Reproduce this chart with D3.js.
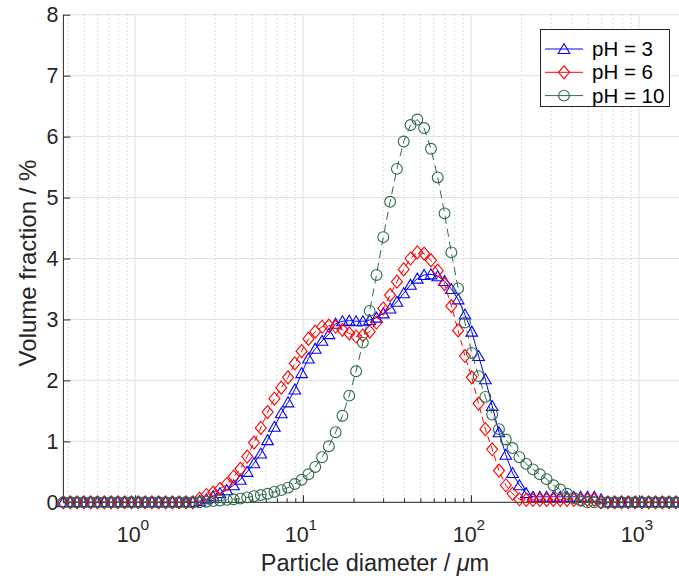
<!DOCTYPE html>
<html>
<head>
<meta charset="utf-8">
<script src="https://cdn.jsdelivr.net/npm/d3@7"></script>
<style>
  body { margin: 0; background: #fff; }
  text { font-family: "Liberation Sans", Arial, Helvetica, sans-serif; fill: #262626; }
</style>
</head>
<body>
<div id="chart"></div>
<script>
// Particle size channels (um)
const diameter = [0.375,0.412,0.452,0.496,0.545,0.598,0.657,0.721,0.791,0.869,
  0.953,1.047,1.149,1.261,1.385,1.520,1.669,1.832,2.011,2.208,
  2.423,2.660,2.920,3.206,3.519,3.863,4.241,4.656,5.111,5.611,
  6.159,6.761,7.422,8.148,8.944,9.819,10.78,11.83,12.99,14.26,
  15.65,17.18,18.86,20.71,22.73,24.95,27.39,30.07,33.01,36.24,
  39.78,43.67,47.94,52.62,57.77,63.41,69.61,76.42,83.89,92.09,
  101.1,111.0,121.8,133.7,146.8,161.2,176.8,194.2,213.2,234.0,
  256.9,282.1,309.6,339.9,373.1,409.6,449.7,493.6,541.9,594.9,
  653.0,716.9,786.9,863.9,948.3,1041,1143,1255,1377,1512,
  1660,1822,2000];

// volume fraction (%) for each pH
const pH3 = [0,0,0,0,0,0,0,0,0,0,
  0,0,0,0,0,0,0,0,0,0,
  0.02,0.05,0.10,0.15,0.20,0.28,0.37,0.50,0.64,0.80,
  1.02,1.24,1.46,1.64,1.85,2.12,2.36,2.52,2.65,2.76,
  2.93,2.97,2.98,2.97,2.97,2.99,3.03,3.10,3.18,3.29,
  3.43,3.57,3.67,3.73,3.74,3.71,3.63,3.50,3.33,3.08,
  2.80,2.40,2.02,1.58,1.15,0.78,0.48,0.28,0.15,0.09,
  0.09,0.09,0.09,0.09,0.09,0.09,0.09,0.09,0.09,0.05,
  0,0,0,0,0,0,0,0,0,0,
  0,0,0];
const pH6 = [0,0,0,0,0,0,0,0,0,0,
  0,0,0,0,0,0,0,0,0,0,
  0.06,0.12,0.16,0.22,0.30,0.42,0.55,0.75,0.98,1.22,
  1.48,1.70,1.88,2.05,2.28,2.48,2.68,2.80,2.88,2.90,
  2.88,2.83,2.77,2.72,2.74,2.80,2.95,3.18,3.40,3.62,
  3.82,4.00,4.10,4.08,3.97,3.80,3.58,3.22,2.82,2.40,
  2.05,1.62,1.20,0.87,0.52,0.28,0.14,0.05,0.04,0.04,
  0.04,0.04,0.04,0.04,0.04,0.04,0.04,0.04,0.04,0,
  0,0,0,0,0,0,0,0,0,0,
  0,0,0];
const pH10 = [0,0,0,0,0,0,0,0,0,0,
  0,0,0,0,0,0,0,0,0,0,
  0,0.01,0.02,0.03,0.04,0.05,0.06,0.08,0.10,0.12,
  0.14,0.17,0.20,0.24,0.30,0.37,0.46,0.58,0.74,0.92,
  1.15,1.42,1.75,2.15,2.62,3.14,3.73,4.35,4.93,5.47,
  5.92,6.19,6.28,6.14,5.80,5.33,4.74,4.10,3.51,2.95,
  2.45,2.07,1.73,1.44,1.20,1.03,0.89,0.74,0.63,0.54,
  0.46,0.38,0.28,0.21,0.14,0.07,0.03,0,0,0,
  0,0,0,0,0,0,0,0,0,0,
  0,0,0];

const seriesNames = ['pH = 3', 'pH = 6', 'pH = 10'];
const yTicks = [0, 1, 2, 3, 4, 5, 6, 7, 8];
const xMajor = [1, 10, 100, 1000];
const xMajorExp = ['0', '1', '2', '3'];

const width = 679, height = 576;
const svg = d3.select('#chart').append('svg')
  .attr('width', width)
  .attr('height', height);

const plotLeft = 63.4, plotBottom = 502.3, plotTop = 14.7;
const decade = 168;
const x = d3.scaleLog()
  .domain([0.375, 2000])
  .range([plotLeft, plotLeft + decade * Math.log10(2000 / 0.375)]);
const y = d3.scaleLinear().domain([0, 8]).range([plotBottom, plotTop]);

// minor x values (2..9 in each decade, inside the domain)
const xMinor = [];
[0.1, 1, 10, 100, 1000].forEach(b => {
  for (let m = 2; m <= 9; m++) {
    const v = b * m;
    if (v > 0.375 && v < 2000) xMinor.push(v);
  }
});

// grid
const grid = svg.append('g');
grid.selectAll('line.minor')
  .data(xMinor)
  .enter().append('line')
  .attr('x1', d => x(d)).attr('x2', d => x(d))
  .attr('y1', plotTop).attr('y2', plotBottom)
  .attr('stroke', '#bdbdbd')
  .attr('stroke-width', 1)
  .attr('stroke-dasharray', '1,3');
grid.selectAll('line.vmaj')
  .data(xMajor)
  .enter().append('line')
  .attr('x1', d => x(d)).attr('x2', d => x(d))
  .attr('y1', plotTop).attr('y2', plotBottom)
  .attr('stroke', '#e0e0e0');
grid.selectAll('line.hmaj')
  .data(yTicks)
  .enter().append('line')
  .attr('x1', plotLeft).attr('x2', width)
  .attr('y1', d => y(d)).attr('y2', d => y(d))
  .attr('stroke', '#e0e0e0');

// axes
const yAxis = svg.append('g')
  .attr('transform', `translate(${plotLeft},0)`)
  .call(d3.axisLeft(y).tickValues(yTicks).tickSize(-7).tickPadding(5).tickFormat(d3.format('d')));
yAxis.select('.domain').remove();
yAxis.selectAll('.tick line').attr('stroke', '#262626');
yAxis.selectAll('.tick text').attr('font-size', 21.5).style('fill', '#262626');

const xAxis = svg.append('g')
  .attr('transform', `translate(0,${plotBottom})`)
  .call(d3.axisBottom(x).tickValues(xMajor).tickSize(-7).tickFormat(''));
xAxis.select('.domain').remove();
xAxis.selectAll('.tick line').attr('stroke', '#262626');

const xAxisMinor = svg.append('g')
  .attr('transform', `translate(0,${plotBottom})`)
  .call(d3.axisBottom(x).tickValues(xMinor).tickSize(-4).tickFormat(''));
xAxisMinor.select('.domain').remove();
xAxisMinor.selectAll('.tick line').attr('stroke', '#262626');

svg.append('line')
  .attr('x1', plotLeft).attr('x2', plotLeft)
  .attr('y1', plotTop).attr('y2', plotBottom)
  .attr('stroke', '#262626');
svg.append('line')
  .attr('x1', plotLeft).attr('x2', width)
  .attr('y1', plotBottom).attr('y2', plotBottom)
  .attr('stroke', '#262626');

// x tick labels 10^n
const xl = svg.append('g');
xMajor.forEach((v, i) => {
  const t = xl.append('text')
    .attr('x', x(v) - 2)
    .attr('y', 542)
    .attr('text-anchor', 'middle')
    .attr('font-size', 21.5);
  t.append('tspan').text('10');
  t.append('tspan').attr('dy', -12).attr('font-size', 15.5).text(xMajorExp[i]);
});

// axis labels
const xt = svg.append('text')
  .attr('x', 375)
  .attr('y', 570.5)
  .attr('text-anchor', 'middle')
  .attr('font-size', 23.5);
xt.append('tspan').text('Particle diameter / ');
xt.append('tspan').attr('font-style', 'italic').text('μ');
xt.append('tspan').text('m');

svg.append('text')
  .attr('transform', 'translate(36,263) rotate(-90)')
  .attr('text-anchor', 'middle')
  .attr('font-size', 24)
  .text('Volume fraction / %');

// series
const triangle = 'M0,-5.5L5.8,4.5L-5.8,4.5Z';
const diamond = 'M0,-6.5L5.5,0L0,6.5L-5.5,0Z';
const circle = d3.symbol().type(d3.symbolCircle).size(Math.PI * 5.4 * 5.4)();

const series = [
  { name: seriesNames[0], values: pH3, color: '#0000ff', dash: null, marker: triangle },
  { name: seriesNames[1], values: pH6, color: '#ff0000', dash: '6,4', marker: diamond },
  { name: seriesNames[2], values: pH10, color: '#2f6a4b', dash: '8,5', marker: circle }
];

const line = d3.line()
  .x(d => x(d[0]))
  .y(d => y(d[1]));

series.forEach(s => {
  const pts = diameter.map((d, i) => [d, s.values[i]]);
  const g = svg.append('g');
  g.append('path')
    .datum(pts)
    .attr('d', line)
    .attr('fill', 'none')
    .attr('stroke', s.color)
    .attr('stroke-width', 1)
    .attr('stroke-dasharray', s.dash);
  g.selectAll('path.m')
    .data(pts)
    .enter().append('path')
    .attr('class', 'm')
    .attr('d', s.marker)
    .attr('transform', d => `translate(${x(d[0])},${y(d[1])})`)
    .attr('fill', 'none')
    .attr('stroke', s.color)
    .attr('stroke-width', 1.1);
});

// legend
const lg = svg.append('g');
lg.append('rect')
  .attr('x', 540.5).attr('y', 29.5)
  .attr('width', 129).attr('height', 77)
  .attr('fill', '#fff')
  .attr('stroke', '#262626');
series.forEach((s, i) => {
  const yy = 49 + i * 23.3;
  lg.append('line')
    .attr('x1', 545).attr('x2', 583)
    .attr('y1', yy).attr('y2', yy)
    .attr('stroke', s.color);
  lg.append('path')
    .attr('d', s.marker)
    .attr('transform', `translate(564,${yy})`)
    .attr('fill', 'none')
    .attr('stroke', s.color)
    .attr('stroke-width', 1.1);
  lg.append('text')
    .attr('x', 592)
    .attr('y', yy + 7)
    .attr('font-size', 20.5)
    .style('fill', '#000')
    .text(s.name);
});
</script>
</body>
</html>
